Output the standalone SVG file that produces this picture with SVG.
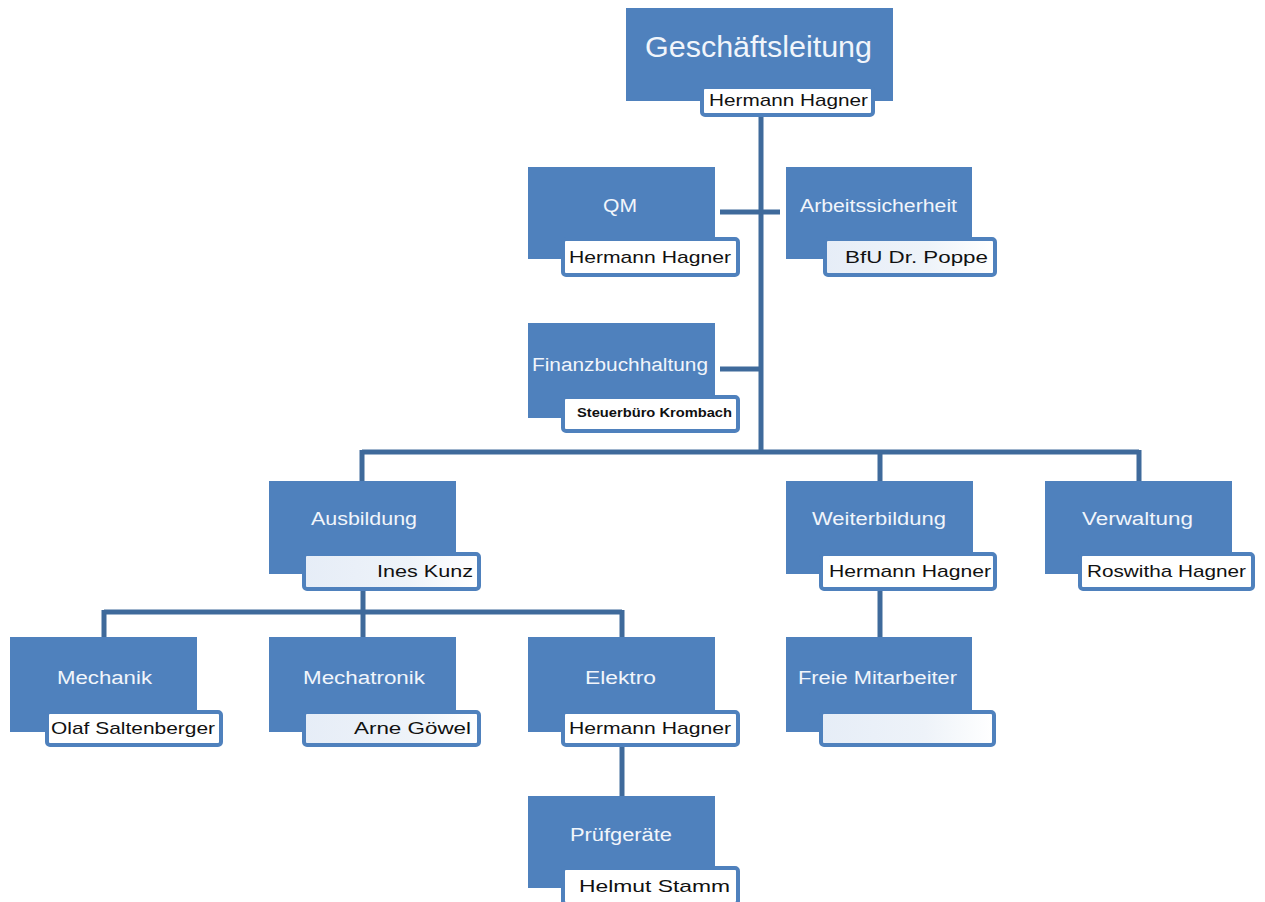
<svg xmlns="http://www.w3.org/2000/svg" width="1265" height="902" viewBox="0 0 1265 902">
<defs>
<linearGradient id="tintGrad" x1="0" y1="0" x2="1" y2="0">
<stop offset="0" stop-color="#e6edf7"/>
<stop offset="0.6" stop-color="#eef3f9"/>
<stop offset="1" stop-color="#ffffff"/>
</linearGradient>
</defs>
<style>
.box{fill:#4f81bd}
.frame{fill:#ffffff;stroke:#4f81bd;stroke-width:4}
.tint{fill:url(#tintGrad);stroke:#4f81bd;stroke-width:4}
.lbl{font-family:"Liberation Sans",Arial,sans-serif;font-size:18px;fill:#f1f5fb}
.big{font-size:29px}
.nm{font-family:"Liberation Sans",Arial,sans-serif;font-size:17px;fill:#111111}
.sm{font-size:12px;font-weight:bold}
.con{fill:none;stroke:#3f6a9b;stroke-width:5}
</style>
<rect width="1265" height="902" fill="#ffffff"/>
<g id="connectors">
<path class="con" d="M761 117V452"/>
<path class="con" d="M720 212H780"/>
<path class="con" d="M720 369H761"/>
<path class="con" d="M362 452H1139M362 450V481M880 450V481M1139 450V481"/>
<path class="con" d="M363 591V612M104 612H622M104 610V637M363 610V637M622 610V637"/>
<path class="con" d="M622 747V796"/>
<path class="con" d="M880 590V637"/>
</g>
<g id="n-geschaeftsleitung">
<rect class="box" x="626" y="8" width="267" height="93"/>
<rect class="frame" x="702" y="87" width="171" height="28" rx="3"/>
<text class="lbl big" x="645" y="57" textLength="227" lengthAdjust="spacingAndGlyphs">Geschäftsleitung</text>
<text class="nm" x="709" y="106" textLength="159" lengthAdjust="spacingAndGlyphs">Hermann Hagner</text>
</g>
<g id="n-qm">
<rect class="box" x="528" y="167" width="187" height="92"/>
<rect class="frame" x="563" y="239" width="175" height="36" rx="3"/>
<text class="lbl" x="603" y="212" textLength="34" lengthAdjust="spacingAndGlyphs">QM</text>
<text class="nm" x="569" y="263" textLength="162" lengthAdjust="spacingAndGlyphs">Hermann Hagner</text>
</g>
<g id="n-arbeitssicherheit">
<rect class="box" x="786" y="167" width="186" height="92"/>
<rect class="tint" x="825" y="239" width="170" height="36" rx="3"/>
<text class="lbl" x="800" y="212" textLength="157" lengthAdjust="spacingAndGlyphs">Arbeitssicherheit</text>
<text class="nm" x="845" y="263" textLength="143" lengthAdjust="spacingAndGlyphs">BfU  Dr. Poppe</text>
</g>
<g id="n-finanzbuchhaltung">
<rect class="box" x="528" y="323" width="187" height="95"/>
<rect class="frame" x="563" y="397" width="175" height="34" rx="3"/>
<text class="lbl" x="532" y="371" textLength="176" lengthAdjust="spacingAndGlyphs">Finanzbuchhaltung</text>
<text class="nm sm" x="577" y="417" textLength="155" lengthAdjust="spacingAndGlyphs">Steuerbüro Krombach</text>
</g>
<g id="n-ausbildung">
<rect class="box" x="269" y="481" width="187" height="93"/>
<rect class="tint" x="304" y="554" width="175" height="35" rx="3"/>
<text class="lbl" x="311" y="525" textLength="106" lengthAdjust="spacingAndGlyphs">Ausbildung</text>
<text class="nm" x="377" y="577" textLength="96" lengthAdjust="spacingAndGlyphs">Ines Kunz</text>
</g>
<g id="n-weiterbildung">
<rect class="box" x="786" y="481" width="187" height="93"/>
<rect class="frame" x="821" y="554" width="174" height="35" rx="3"/>
<text class="lbl" x="812" y="525" textLength="134" lengthAdjust="spacingAndGlyphs">Weiterbildung</text>
<text class="nm" x="829" y="577" textLength="162" lengthAdjust="spacingAndGlyphs">Hermann Hagner</text>
</g>
<g id="n-verwaltung">
<rect class="box" x="1045" y="481" width="187" height="93"/>
<rect class="frame" x="1080" y="554" width="173" height="35" rx="3"/>
<text class="lbl" x="1082" y="525" textLength="111" lengthAdjust="spacingAndGlyphs">Verwaltung</text>
<text class="nm" x="1087" y="577" textLength="159" lengthAdjust="spacingAndGlyphs">Roswitha Hagner</text>
</g>
<g id="n-mechanik">
<rect class="box" x="10" y="637" width="187" height="95"/>
<rect class="frame" x="47" y="712" width="174" height="33" rx="3"/>
<text class="lbl" x="57" y="684" textLength="95" lengthAdjust="spacingAndGlyphs">Mechanik</text>
<text class="nm" x="51" y="734" textLength="164" lengthAdjust="spacingAndGlyphs">Olaf Saltenberger</text>
</g>
<g id="n-mechatronik">
<rect class="box" x="269" y="637" width="187" height="95"/>
<rect class="tint" x="304" y="712" width="175" height="33" rx="3"/>
<text class="lbl" x="303" y="684" textLength="122" lengthAdjust="spacingAndGlyphs">Mechatronik</text>
<text class="nm" x="354" y="734" textLength="117" lengthAdjust="spacingAndGlyphs">Arne  Göwel</text>
</g>
<g id="n-elektro">
<rect class="box" x="528" y="637" width="187" height="95"/>
<rect class="frame" x="563" y="712" width="175" height="33" rx="3"/>
<text class="lbl" x="585" y="684" textLength="71" lengthAdjust="spacingAndGlyphs">Elektro</text>
<text class="nm" x="569" y="734" textLength="162" lengthAdjust="spacingAndGlyphs">Hermann Hagner</text>
</g>
<g id="n-freie-mitarbeiter">
<rect class="box" x="786" y="637" width="186" height="95"/>
<rect class="tint" x="821" y="712" width="173" height="33" rx="3"/>
<text class="lbl" x="798" y="684" textLength="159" lengthAdjust="spacingAndGlyphs">Freie Mitarbeiter</text>
</g>
<g id="n-pruefgeraete">
<rect class="box" x="528" y="796" width="187" height="92"/>
<rect class="frame" x="563" y="868" width="175" height="36" rx="3"/>
<text class="lbl" x="570" y="841" textLength="102" lengthAdjust="spacingAndGlyphs">Prüfgeräte</text>
<text class="nm" x="579" y="892" textLength="151" lengthAdjust="spacingAndGlyphs">Helmut Stamm</text>
</g>
</svg>
